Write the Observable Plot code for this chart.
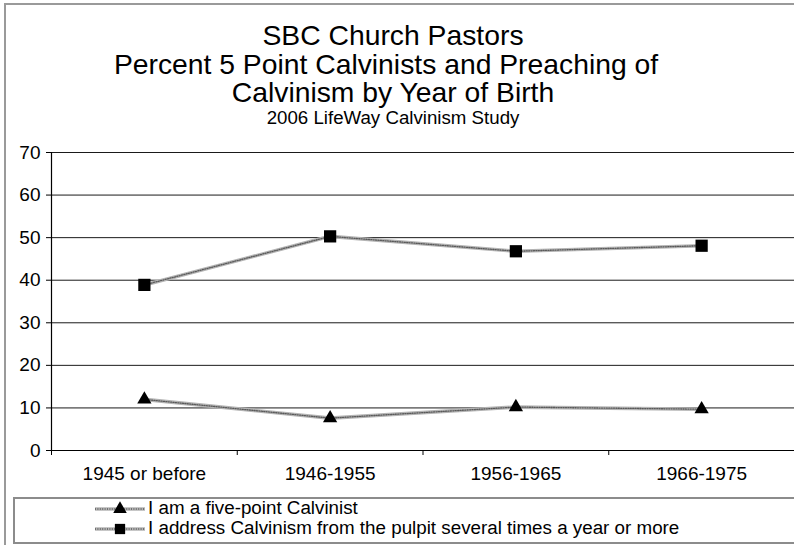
<!DOCTYPE html>
<html>
<head>
<meta charset="utf-8">
<script src="https://cdn.jsdelivr.net/npm/d3@7"></script>
<script src="https://cdn.jsdelivr.net/npm/@observablehq/plot@0.6"></script>
<style>
  html, body { margin: 0; padding: 0; background: #fff; }
  #wrap { position: relative; width: 794px; height: 545px; overflow: hidden; font-family: "Liberation Sans", Arial, Helvetica, sans-serif; color: #000; }
  #frame { position: absolute; left: 4px; top: 3px; width: 900px; height: 700px; border-left: 2.5px solid #9a9a9a; border-top: 2px solid #9a9a9a; box-sizing: border-box; }
  #title { position: absolute; left: 0; top: 21.4px; width: 786px; text-align: center; }
  .t1 { font-size: 28.3px; line-height: 28.5px; white-space: nowrap; }
  .t2 { font-size: 18.7px; line-height: 21.5px; white-space: nowrap; }
  #chart { position: absolute; left: 0; top: 128px; }
  #chart svg text { font-size: 19px; }
  #legend { position: absolute; left: 13px; top: 497px; width: 900px; height: 47px; border: 2px solid #8c8c8c; box-sizing: border-box; }
  .lrow { position: absolute; left: 80px; height: 20px; font-size: 18.8px; line-height: 20px; white-space: nowrap; }
  .lrow svg { position: absolute; left: 0; top: 0; }
  .lrow span { position: absolute; left: 53px; top: 0; }
</style>
</head>
<body>
<div id="wrap">
  <div id="frame"></div>
  <div id="title"></div>
  <div id="chart"></div>
  <div id="legend"></div>
</div>
<script>
const titleLines = ["SBC Church Pastors", "Percent 5 Point Calvinists and Preaching of", "Calvinism by Year of Birth"];
const subtitle = "2006 LifeWay Calvinism Study";
const categories = ["1945 or before", "1946-1955", "1956-1965", "1966-1975"];
const fivePoint = [12.0, 7.6, 10.2, 9.7];
const preaching = [38.9, 50.3, 46.8, 48.1];
const yTicks = [0, 10, 20, 30, 40, 50, 60, 70];
const seriesNames = ["I am a five-point Calvinist", "I address Calvinism from the pulpit several times a year or more"];
const seriesSymbols = ["triangle", "square"];

// Title
const titleDiv = document.getElementById("title");
titleLines.forEach((t, i) => {
  const d = document.createElement("div");
  d.className = "t1";
  d.textContent = t;
  if (i === 1) d.style.paddingRight = "14px";
  titleDiv.appendChild(d);
});
const sub = document.createElement("div");
sub.className = "t2";
sub.textContent = subtitle;
titleDiv.appendChild(sub);

// Data table
const seriesValues = [fivePoint, preaching];
const rows = seriesNames.flatMap((s, si) =>
  categories.map((c, i) => ({series: s, symbol: seriesSymbols[si], cat: c, pos: i + 0.5, value: seriesValues[si][i]}))
);
const triRows = rows.filter(d => d.symbol === "triangle");
const sqRows = rows.filter(d => d.symbol === "square");

const chart = Plot.plot({
  width: 794,
  height: 367,
  marginLeft: 51,
  marginRight: 0,
  marginTop: 24,
  marginBottom: 45,
  x: {domain: [0, categories.length], axis: null, label: null},
  y: {domain: [0, 70], axis: null, label: null},
  style: {fontFamily: '"Liberation Sans", Arial, Helvetica, sans-serif', fontSize: "19px", color: "#000", background: "transparent", overflow: "visible"},
  marks: [
    Plot.ruleY(yTicks.filter(d => d > 0), {stroke: "#1a1a1a", strokeWidth: 1}),
    Plot.ruleY([0], {stroke: "#000", strokeWidth: 1.2}),
    Plot.ruleX([0], {stroke: "#000", strokeWidth: 1.2}),
    Plot.axisY({ticks: yTicks, label: null, tickSize: 5, tickPadding: 6, fontSize: 19, stroke: "#000"}),
    Plot.axisX({ticks: d3.range(0, categories.length + 1), label: null, tickSize: 5, tickFormat: () => "", stroke: "#000"}),
    Plot.axisX({ticks: categories.map((c, i) => i + 0.5), label: null, tickSize: 0, tickPadding: 16, fontSize: 19, tickFormat: v => categories[Math.round(v - 0.5)]}),
    Plot.line(rows, {x: "pos", y: "value", z: "series", stroke: "#b4b4b4", strokeWidth: 3.6}),
    Plot.line(rows, {x: "pos", y: "value", z: "series", stroke: "#5a5a5a", strokeWidth: 1.3, strokeDasharray: "1,1.4"}),
    Plot.dot(triRows, {x: "pos", y: "value", symbol: "triangle", r: 5.3, fill: "#000", stroke: "none"}),
    Plot.dot(sqRows, {x: "pos", y: "value", symbol: "square", r: 6.9, fill: "#000", stroke: "none"})
  ]
});
document.getElementById("chart").appendChild(chart);

// Legend
const legend = document.getElementById("legend");
const ns = "http://www.w3.org/2000/svg";
seriesNames.forEach((name, i) => {
  const row = document.createElement("div");
  row.className = "lrow";
  row.style.top = (i * 20 - 1.0) + "px";
  const svg = document.createElementNS(ns, "svg");
  svg.setAttribute("width", 52);
  svg.setAttribute("height", 20);
  const l1 = document.createElementNS(ns, "line");
  l1.setAttribute("x1", 0); l1.setAttribute("x2", 50); l1.setAttribute("y1", 11); l1.setAttribute("y2", 11);
  l1.setAttribute("stroke", "#b4b4b4"); l1.setAttribute("stroke-width", 3.6);
  const l2 = l1.cloneNode();
  l2.setAttribute("stroke", "#5a5a5a"); l2.setAttribute("stroke-width", 1.3); l2.setAttribute("stroke-dasharray", "1,1.4");
  svg.appendChild(l1); svg.appendChild(l2);
  const m = document.createElementNS(ns, "path");
  const sym = seriesSymbols[i] === "triangle" ? d3.symbolTriangle : d3.symbolSquare;
  const r = seriesSymbols[i] === "triangle" ? 5 : 5.8;
  m.setAttribute("d", d3.symbol(sym, Math.PI * r * r)());
  m.setAttribute("transform", "translate(25,11)");
  m.setAttribute("fill", "#000");
  svg.appendChild(m);
  row.appendChild(svg);
  const sp = document.createElement("span");
  sp.textContent = name;
  row.appendChild(sp);
  legend.appendChild(row);
});
</script>
</body>
</html>
